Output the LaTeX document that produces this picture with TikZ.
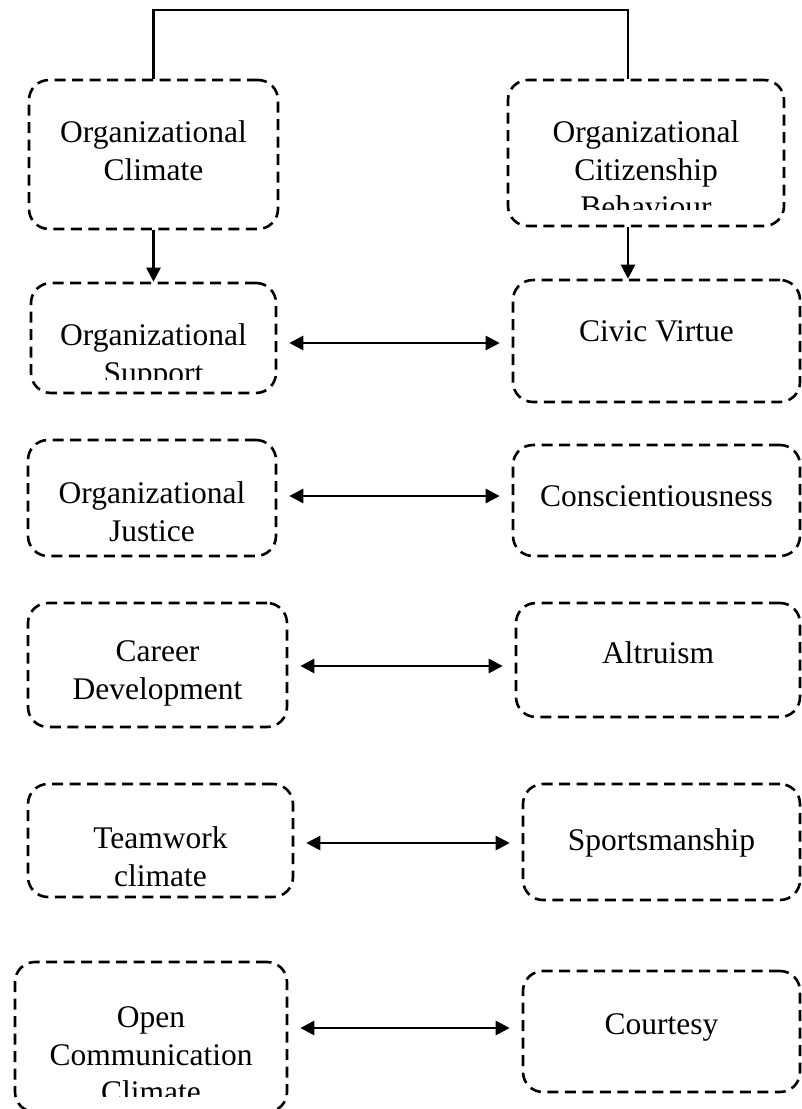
\documentclass[tikz,border=0pt]{standalone}
\usepackage{fontspec}
\setmainfont{Liberation Serif}
\usetikzlibrary{positioning,arrows.meta}

\begin{document}
\begin{tikzpicture}[
  x=1pt, y=-1pt,
  box/.style={draw, dash pattern=on 11pt off 6.5pt, line width=2.6pt, rounded corners=20pt, inner sep=0pt},
  txt/.style={align=center, inner sep=0pt, font=\fontsize{31.5}{37.5}\selectfont},
  wire/.style={line width=2.6pt},
  link/.style={<->, line width=2.8pt, shorten <=12pt, shorten >=12pt},
  >={Triangle[length=14pt,width=14pt]}
]
\useasboundingbox (0,0) rectangle (801,1109);

% climate side
\node[box, minimum width=249pt, minimum height=149pt] (clim) at (153.5,154.5) {};
\node[box, minimum width=245pt, minimum height=110pt] (supp) at (153.5,338) {};
\node[box, minimum width=248pt, minimum height=116pt] (just) at (152,498) {};
\node[box, minimum width=259pt, minimum height=124pt] (career) at (157.5,665) {};
\node[box, minimum width=265pt, minimum height=113pt] (team) at (160.5,840.5) {};
\node[box, minimum width=272pt, minimum height=150pt] (open) at (151,1037) {};

% citizenship side
\node[box, minimum width=276pt, minimum height=146pt] (ocb) at (646,153) {};
\node[box, minimum width=287pt, minimum height=122pt] (civic) at (656.5,341) {};
\node[box, minimum width=287pt, minimum height=111pt] (consc) at (656.5,500.5) {};
\node[box, minimum width=284pt, minimum height=114pt] (altr) at (658,660) {};
\node[box, minimum width=277pt, minimum height=116pt] (sport) at (661.5,842) {};
\node[box, minimum width=277pt, minimum height=121pt] (court) at (661.5,1031.5) {};

% labels, top aligned inside the boxes
\node[txt, below=42pt of clim.north] (climtxt) {Organizational\\Climate};
\node[txt, below=43pt of just.north] (justtxt) {Organizational\\Justice};
\node[txt, below=39pt of career.north] (careertxt) {Career\\Development};
\node[txt, below=44pt of team.north] (teamtxt) {Teamwork\\climate};
\node[txt, below=42pt of civic.north] (civictxt) {Civic Virtue};
\node[txt, below=42pt of consc.north] (consctxt) {Conscientiousness};
\node[txt, below=40pt of altr.north] (altrtxt) {Altruism};
\node[txt, below=46pt of sport.north] (sporttxt) {Sportsmanship};
\node[txt, below=44pt of court.north] (courttxt) {Courtesy};

% overflowing labels are cut at the inner margin
\begin{scope}
  \clip (ocb.north west) rectangle ([yshift=18pt]ocb.south east);
  \node[txt, below=42pt of ocb.north] (ocbtxt) {Organizational\\Citizenship\\Behaviour};
\end{scope}
\begin{scope}
  \clip (supp.north west) rectangle ([yshift=15pt]supp.south east);
  \node[txt, below=42pt of supp.north] (supptxt) {Organizational\\Support};
\end{scope}
\begin{scope}
  \clip (open.north west) rectangle ([yshift=17pt]open.south east);
  \node[txt, below=46pt of open.north] (opentxt) {Open\\Communication\\Climate};
\end{scope}

% connectors
\coordinate (join) at (628,10);
\draw[wire] (clim.north) |- (join) -- (join |- ocb.north);
\draw[wire,->] (clim.south) -- (supp.north);
\draw[wire,->] (join |- ocb.south) -- (join |- civic.north);

\draw[link] ([yshift=-5pt]supp.east) -- ([yshift=-5pt]supp.east -| civic.west);
\draw[link] ([yshift=2pt]just.east) -- ([yshift=2pt]just.east -| consc.west);
\draw[link] ([yshift=-1pt]career.east) -- ([yshift=-1pt]career.east -| altr.west);
\draw[link] ([yshift=-2.5pt]team.east) -- ([yshift=-2.5pt]team.east -| sport.west);
\draw[link] ([yshift=9pt]open.east) -- ([yshift=9pt]open.east -| court.west);
\end{tikzpicture}
\end{document}
